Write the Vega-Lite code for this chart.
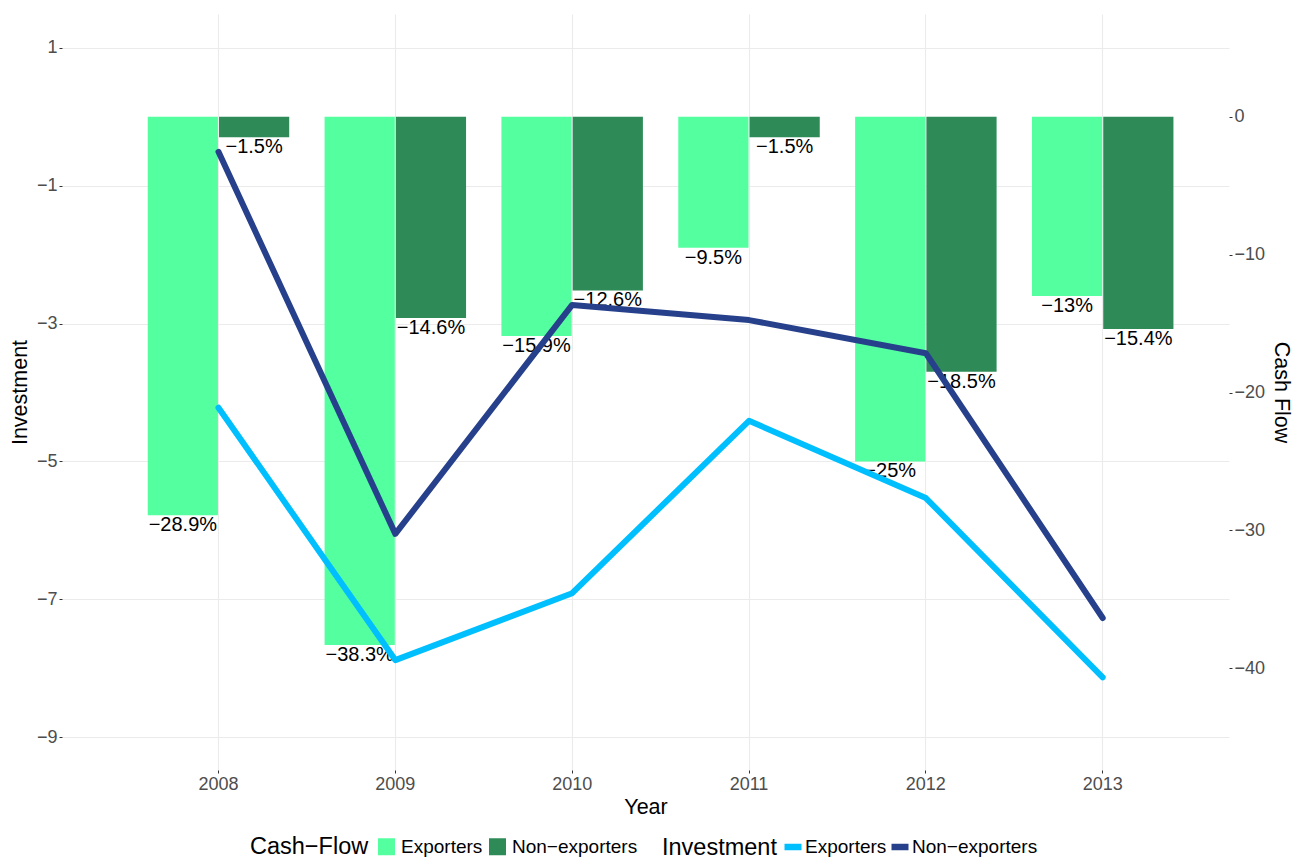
{
  "$schema": "https://vega.github.io/schema/vega-lite/v6.json",
  "width": 1167,
  "height": 756,
  "autosize": {"type": "none"},
  "padding": {"left": 62, "top": 14, "right": 76, "bottom": 87},
  "background": "white",
  "config": {
    "view": {"stroke": null},
    "font": "Liberation Sans",
    "axis": {
      "labelFont": "Liberation Sans",
      "titleFont": "Liberation Sans",
      "labelFontSize": 18,
      "labelColor": "#4D4D4D",
      "titleFontSize": 21.5,
      "titleFontWeight": "normal",
      "titleColor": "black",
      "domain": false,
      "tickSize": 3,
      "tickColor": "#333333",
      "labelPadding": 2,
      "gridColor": "#EBEBEB",
      "gridWidth": 1.1
    },
    "legend": {
      "labelFont": "Liberation Sans",
      "titleFont": "Liberation Sans",
      "labelFontSize": 19,
      "labelColor": "black",
      "titleFontSize": 23.5,
      "titleFontWeight": "normal",
      "titleColor": "black",
      "padding": 0,
      "offset": 0,
      "titleLimit": 300,
      "labelLimit": 300
    }
  },
  "datasets": {
    "cf": [
      {"year": 2008, "group": "Exporters", "cashflow": -28.9, "label": "−28.9%"},
      {"year": 2008, "group": "Non−exporters", "cashflow": -1.5, "label": "−1.5%"},
      {"year": 2009, "group": "Exporters", "cashflow": -38.3, "label": "−38.3%"},
      {"year": 2009, "group": "Non−exporters", "cashflow": -14.6, "label": "−14.6%"},
      {"year": 2010, "group": "Exporters", "cashflow": -15.9, "label": "−15.9%"},
      {"year": 2010, "group": "Non−exporters", "cashflow": -12.6, "label": "−12.6%"},
      {"year": 2011, "group": "Exporters", "cashflow": -9.5, "label": "−9.5%"},
      {"year": 2011, "group": "Non−exporters", "cashflow": -1.5, "label": "−1.5%"},
      {"year": 2012, "group": "Exporters", "cashflow": -25, "label": "−25%"},
      {"year": 2012, "group": "Non−exporters", "cashflow": -18.5, "label": "−18.5%"},
      {"year": 2013, "group": "Exporters", "cashflow": -13, "label": "−13%"},
      {"year": 2013, "group": "Non−exporters", "cashflow": -15.4, "label": "−15.4%"}
    ],
    "inv": [
      {"year": 2008, "series": "Exporters", "investment": -4.22},
      {"year": 2009, "series": "Exporters", "investment": -7.88},
      {"year": 2010, "series": "Exporters", "investment": -6.91},
      {"year": 2011, "series": "Exporters", "investment": -4.41},
      {"year": 2012, "series": "Exporters", "investment": -5.53},
      {"year": 2013, "series": "Exporters", "investment": -8.13},
      {"year": 2008, "series": "Non−exporters", "investment": -0.51},
      {"year": 2009, "series": "Non−exporters", "investment": -6.05},
      {"year": 2010, "series": "Non−exporters", "investment": -2.73},
      {"year": 2011, "series": "Non−exporters", "investment": -2.95},
      {"year": 2012, "series": "Non−exporters", "investment": -3.43},
      {"year": 2013, "series": "Non−exporters", "investment": -7.27}
    ]
  },
  "encoding": {
    "x": {
      "field": "year",
      "type": "ordinal",
      "scale": {"paddingInner": 0.2, "paddingOuter": 0.3995, "align": 0.6068},
      "axis": {"title": "Year", "labelAngle": 0, "grid": true, "bandPosition": 0.5, "titlePadding": 3}
    }
  },
  "layer": [
    {
      "data": {"name": "cf"},
      "encoding": {
        "y": {
          "field": "cashflow",
          "type": "quantitative",
          "scale": {"domain": [-47.37, 7.445], "nice": false, "zero": false},
          "axis": {"orient": "right", "title": "Cash Flow", "values": [0, -10, -20, -30, -40], "grid": false, "titlePadding": 5}
        },
        "xOffset": {"field": "group", "type": "nominal", "scale": {"paddingInner": 0.015, "paddingOuter": 0}}
      },
      "layer": [
        {
          "mark": {"type": "bar"},
          "encoding": {
            "fill": {
              "field": "group",
              "type": "nominal",
              "scale": {"range": ["#54FF9F", "#2E8B57"]},
              "legend": {
                "title": "Cash−Flow",
                "orient": "none",
                "legendX": 188,
                "legendY": 823,
                "direction": "horizontal",
                "titleOrient": "left",
                "symbolType": "square",
                "symbolSize": 289,
                "symbolStrokeWidth": 0,
                "labelOffset": 5,
                "columnPadding": 5,
                "titlePadding": 8
              }
            }
          }
        },
        {
          "mark": {"type": "text", "baseline": "top", "fontSize": 20, "color": "black", "font": "Liberation Sans"},
          "encoding": {"text": {"field": "label"}}
        }
      ]
    },
    {
      "data": {"name": "inv"},
      "mark": {"type": "line", "strokeWidth": 6, "strokeCap": "round", "strokeJoin": "round"},
      "encoding": {
        "y": {
          "field": "investment",
          "type": "quantitative",
          "scale": {"domain": [-9.474, 1.489], "nice": false, "zero": false},
          "axis": {"orient": "left", "title": "Investment", "values": [1, -1, -3, -5, -7, -9], "grid": true, "titlePadding": 5}
        },
        "stroke": {
          "field": "series",
          "type": "nominal",
          "scale": {"range": ["#00BFFF", "#27408B"]},
          "legend": {
            "title": "Investment",
            "orient": "none",
            "legendX": 600,
            "legendY": 821,
            "direction": "horizontal",
            "titleOrient": "left",
            "symbolType": "stroke",
            "symbolSize": 289,
            "symbolStrokeWidth": 6.5,
            "labelOffset": 0,
            "columnPadding": -9,
            "titlePadding": 4
          }
        }
      }
    }
  ],
  "resolve": {"scale": {"y": "independent"}}
}
